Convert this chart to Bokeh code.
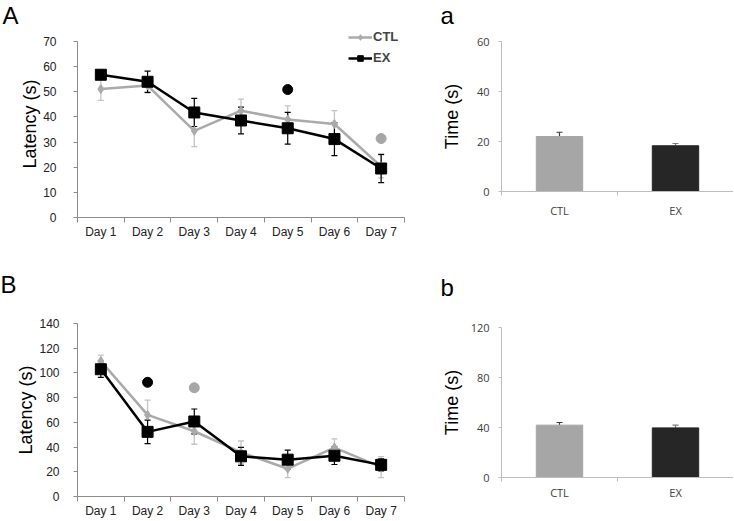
from bokeh.plotting import figure
from bokeh.models import (Range1d, FixedTicker, Whisker, TeeHead, ColumnDataSource,
                          Legend, LegendItem, Title)
from bokeh.layouts import row, column
from bokeh.embed import file_html
from bokeh.resources import INLINE

# ---------------- data ----------------
days = ["Day 1", "Day 2", "Day 3", "Day 4", "Day 5", "Day 6", "Day 7"]

# Panel A (latency, s)
A_ctl = [51.1, 52.5, 34.5, 42.5, 39.0, 37.2, 20.3]
A_ctl_err = [4.5, 3.0, 6.3, 4.6, 5.4, 5.3, 4.5]
A_ex = [56.8, 54.0, 41.8, 38.6, 35.5, 31.2, 19.5]
A_ex_err = [1.7, 4.2, 5.6, 5.3, 6.3, 6.6, 5.6]
A_yticks = [0, 10, 20, 30, 40, 50, 60, 70]
A_sig_days = ["Day 5", "Day 7"]
A_sig_y = [50.9, 31.4]
A_sig_group = ["EX", "CTL"]

# Panel B (latency, s)
B_ctl = [109.6, 66.0, 52.8, 35.7, 22.5, 39.6, 23.8]
B_ctl_err = [4.8, 12.0, 10.5, 9.2, 7.2, 7.1, 8.5]
B_ex = [103.0, 52.3, 60.7, 32.5, 29.8, 33.0, 25.6]
B_ex_err = [6.6, 9.5, 10.1, 7.3, 7.7, 7.1, 4.8]
B_yticks = [0, 20, 40, 60, 80, 100, 120, 140]
B_sig_days = ["Day 2", "Day 3"]
B_sig_y = [92.4, 88.0]
B_sig_group = ["EX", "CTL"]

# Panels a / b (time, s)
groups = ["CTL", "EX"]
a_time = [22.0, 18.3]
a_time_err = [1.7, 0.9]
a_yticks = [0, 20, 40, 60]
b_time = [41.9, 39.7]
b_time_err = [2.1, 2.2]
b_yticks = [0, 40, 80, 120]

# ---------------- styles ----------------
CTL_LINE = "#aaaaaa"
CTL_ERR = "#c4c4c4"
EX_LINE = "#000000"
CTL_BAR = "#a6a6a6"
EX_BAR = "#262626"
FONT = "Liberation Sans"
LEFT_W = 418
RIGHT_W = 315


def letter(p, text, offset, spacer=None, size="24px"):
    # optional invisible spacer panel between the panel letter and the plot frame
    if spacer:
        p.add_layout(Title(text=" ", standoff=0, text_font=FONT, text_font_size=spacer), "above")
    p.add_layout(Title(text=text, align="left", vertical_align="top", offset=offset,
                       standoff=0, text_font=FONT, text_font_size=size,
                       text_font_style="normal", text_color="#000000"), "above")


def line_panel(ctl, ctl_err, ex, ex_err, yticks, ytop, sig_days, sig_y, sig_group,
               height, top, bottom, left, right, ytick_standoff, with_legend):
    xs = list(range(1, len(days) + 1))
    p = figure(width=LEFT_W, height=height, output_backend="svg", toolbar_location=None,
               x_range=Range1d(0.5, len(days) + 0.5), y_range=Range1d(yticks[0], ytop),
               min_border_top=top, min_border_bottom=bottom, min_border_left=left,
               min_border_right=right)
    p.outline_line_color = None
    p.xgrid.visible = False
    p.ygrid.visible = False

    src_c = ColumnDataSource(dict(x=xs, y=ctl,
                                  lo=[v - e for v, e in zip(ctl, ctl_err)],
                                  hi=[v + e for v, e in zip(ctl, ctl_err)]))
    src_e = ColumnDataSource(dict(x=xs, y=ex,
                                  lo=[v - e for v, e in zip(ex, ex_err)],
                                  hi=[v + e for v, e in zip(ex, ex_err)]))

    p.add_layout(Whisker(source=src_c, base="x", lower="lo", upper="hi",
                         line_color=CTL_ERR, line_width=1.3,
                         upper_head=TeeHead(size=6, line_color=CTL_ERR, line_width=1.3),
                         lower_head=TeeHead(size=6, line_color=CTL_ERR, line_width=1.3)))
    p.add_layout(Whisker(source=src_e, base="x", lower="lo", upper="hi",
                         line_color=EX_LINE, line_width=1.2,
                         upper_head=TeeHead(size=6, line_color=EX_LINE, line_width=1.2),
                         lower_head=TeeHead(size=6, line_color=EX_LINE, line_width=1.2)))

    lc = p.line("x", "y", source=src_c, line_color=CTL_LINE, line_width=2.5)
    mc = p.scatter("x", "y", source=src_c, marker="diamond", size=9,
                   fill_color=CTL_LINE, line_color=CTL_LINE)
    le = p.line("x", "y", source=src_e, line_color=EX_LINE, line_width=2.5)
    me = p.scatter("x", "y", source=src_e, marker="square", size=11,
                   fill_color=EX_LINE, line_color=EX_LINE)

    sig_x = [days.index(d) + 1 for d in sig_days]
    sig_c = [EX_LINE if g == "EX" else CTL_BAR for g in sig_group]
    p.scatter(sig_x, sig_y, marker="circle", size=10, fill_color=sig_c, line_color=sig_c)

    # axes
    p.xaxis.ticker = FixedTicker(ticks=xs, minor_ticks=[x - 0.5 for x in xs] + [xs[-1] + 0.5])
    p.xaxis.major_label_overrides = {x: d for x, d in zip(xs, days)}
    p.xaxis.major_tick_out = 0
    p.xaxis.major_tick_in = 0
    p.xaxis.minor_tick_out = 5
    p.xaxis.minor_tick_in = 0
    p.xaxis.major_label_standoff = 2
    p.yaxis.ticker = FixedTicker(ticks=yticks)
    p.yaxis.bounds = (yticks[0], yticks[-1])
    p.yaxis.major_tick_out = 4
    p.yaxis.major_tick_in = 0
    p.yaxis.minor_tick_out = 0
    p.yaxis.major_label_standoff = ytick_standoff
    p.yaxis.axis_label = "Latency (s)"
    p.yaxis.axis_label_standoff = 0
    for ax in (p.xaxis, p.yaxis):
        ax.axis_line_color = "#8c8c8c"
        ax.major_tick_line_color = "#8c8c8c"
        ax.minor_tick_line_color = "#8c8c8c"
        ax.major_label_text_font = FONT
        ax.major_label_text_font_size = "12px"
        ax.major_label_text_color = "#222222"
        ax.axis_label_text_font = FONT
        ax.axis_label_text_font_size = "18px"
        ax.axis_label_text_font_style = "normal"
        ax.axis_label_text_color = "#000000"

    if with_legend:
        leg = Legend(items=[LegendItem(label="CTL", renderers=[lc, mc]),
                            LegendItem(label="EX", renderers=[le, me])],
                     location=(271, 152), orientation="vertical",
                     padding=0, margin=0, spacing=6, glyph_width=24, glyph_height=14,
                     label_standoff=1, label_text_font=FONT, label_text_font_size="13px",
                     label_text_font_style="bold", label_height=14,
                     border_line_color=None, background_fill_alpha=0)
        p.add_layout(leg)
    return p


def bar_panel(vals, errs, yticks, height, top, bottom, left, xlabel_standoff, ylabel_standoff):
    xs = [i + 0.5 for i in range(len(groups))]
    p = figure(width=RIGHT_W, height=height, output_backend="svg", toolbar_location=None,
               x_range=Range1d(0, len(groups)), y_range=Range1d(yticks[0], yticks[-1]),
               min_border_top=top, min_border_bottom=bottom, min_border_left=left,
               min_border_right=0)
    p.outline_line_color = None
    p.xgrid.visible = False
    p.ygrid.visible = False
    src = ColumnDataSource(dict(x=xs, top=vals, hi=[v + e for v, e in zip(vals, errs)],
                                color=[CTL_BAR, EX_BAR], ecol=["#3a3a3a", "#7a7a7a"]))
    p.vbar(x="x", top="top", width=0.4, bottom=0, source=src, fill_color="color",
           line_color="color")
    p.add_layout(Whisker(source=src, base="x", lower="top", upper="hi",
                         line_color="ecol", line_width=1.2,
                         upper_head=TeeHead(size=6, line_color="ecol", line_width=1.2),
                         lower_head=None))
    p.xaxis.ticker = FixedTicker(ticks=xs, minor_ticks=list(range(len(groups) + 1)))
    p.xaxis.major_label_overrides = {x: g for x, g in zip(xs, groups)}
    p.xaxis.major_tick_out = 0
    p.xaxis.major_tick_in = 0
    p.xaxis.minor_tick_out = 4
    p.xaxis.minor_tick_in = 0
    p.xaxis.major_label_standoff = xlabel_standoff
    p.yaxis.ticker = FixedTicker(ticks=yticks)
    p.yaxis.major_tick_out = 3
    p.yaxis.major_tick_in = 0
    p.yaxis.minor_tick_out = 0
    p.yaxis.major_label_standoff = 9
    p.yaxis.axis_label = "Time (s)"
    p.yaxis.axis_label_standoff = ylabel_standoff
    for ax in (p.xaxis, p.yaxis):
        ax.axis_line_color = "#bdbdbd"
        ax.major_tick_line_color = "#bdbdbd"
        ax.minor_tick_line_color = "#bdbdbd"
        ax.major_label_text_font = "Open Sans"
        ax.major_label_text_font_size = "11px"
        ax.major_label_text_color = "#404040"
        ax.axis_label_text_font = FONT
        ax.axis_label_text_font_size = "18px"
        ax.axis_label_text_font_style = "normal"
        ax.axis_label_text_color = "#000000"
    return p


pA = line_panel(A_ctl, A_ctl_err, A_ex, A_ex_err, A_yticks, 74.4, A_sig_days, A_sig_y,
                A_sig_group, height=262, top=30, bottom=45, left=72, right=14,
                ytick_standoff=17, with_legend=True)
letter(pA, "A", -75)

pB = line_panel(B_ctl, B_ctl_err, B_ex, B_ex_err, B_yticks, 140, B_sig_days, B_sig_y,
                B_sig_group, height=258, top=61, bottom=20, left=77, right=12,
                ytick_standoff=14, with_legend=False)
letter(pB, "B", -77, spacer="19.5px")

pa = bar_panel(a_time, a_time_err, a_yticks, height=262, top=41, bottom=71, left=82,
               xlabel_standoff=7, ylabel_standoff=12)
letter(pa, "a", -61, spacer="8px")

pb = bar_panel(b_time, b_time_err, b_yticks, height=258, top=65, bottom=43, left=83,
               xlabel_standoff=3, ylabel_standoff=6)
letter(pb, "b", -61, spacer="21px")

layout = row(column(pA, pB), column(pa, pb))
open("out.html", "w").write(file_html(layout, INLINE))
